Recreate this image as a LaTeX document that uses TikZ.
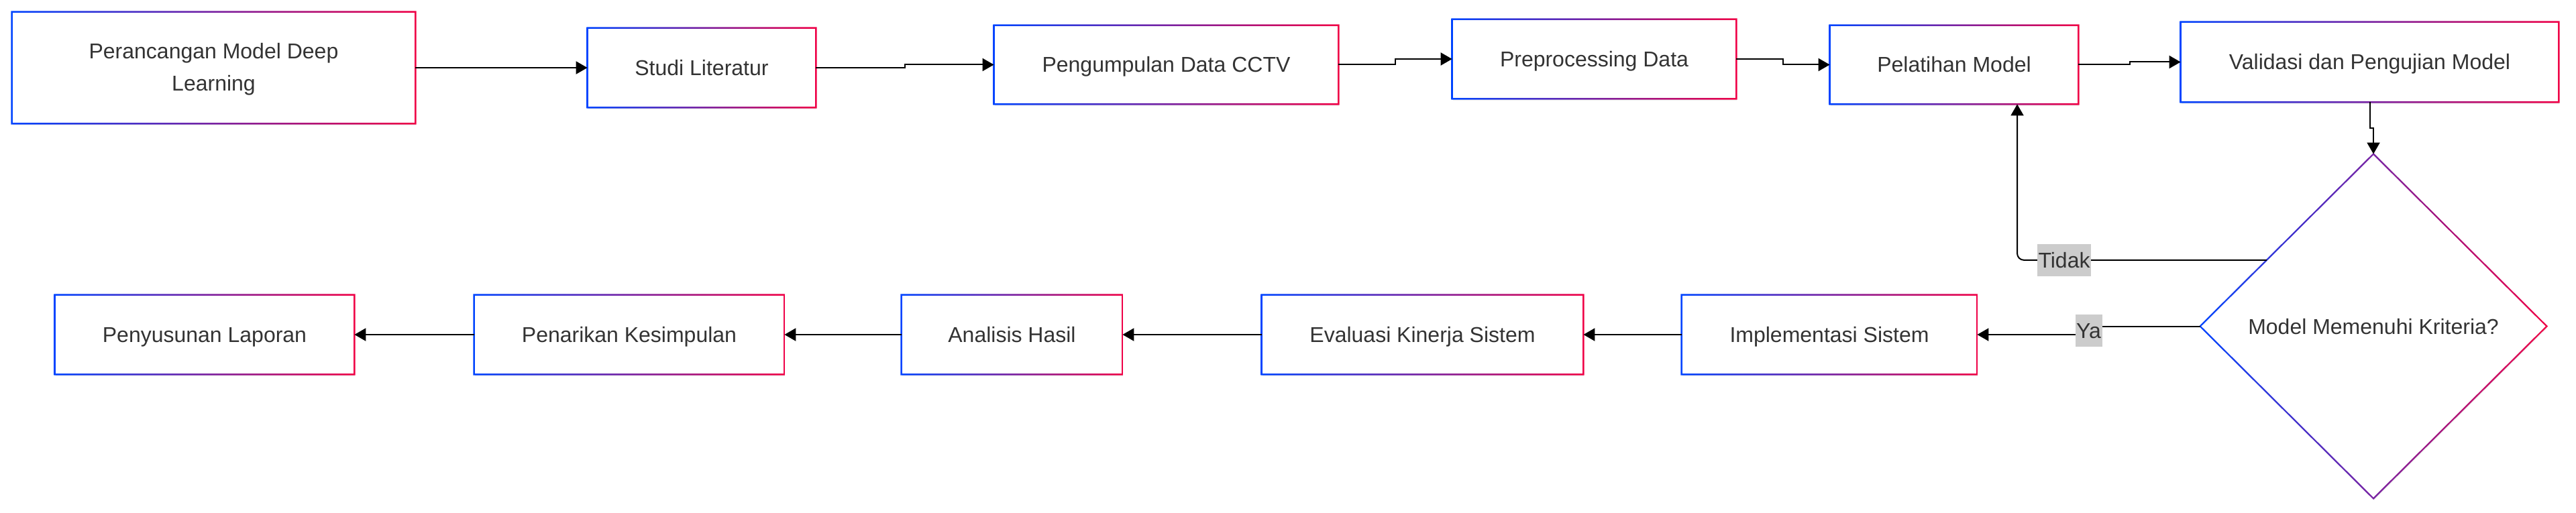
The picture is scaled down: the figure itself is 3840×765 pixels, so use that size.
\documentclass[tikz,border=0pt]{standalone}
\usepackage{fontspec}
\setmainfont{Liberation Sans}
\usetikzlibrary{arrows.meta,calc,shadows,shapes.geometric}
\definecolor{cB}{RGB}{0,68,255}
\definecolor{cR}{RGB}{240,0,70}
\definecolor{txt}{RGB}{51,51,51}
\definecolor{lbl}{RGB}{204,204,204}
\newcommand\gring[1]{%
  \shade[left color=cB,right color=cR,even odd rule]
    ($(#1.north west)+(-1.2,-1.2)$) rectangle ($(#1.south east)+(1.2,1.2)$)
    ($(#1.north west)+(1.2,1.2)$) rectangle ($(#1.south east)+(-1.2,-1.2)$);}
\begin{document}
\begin{tikzpicture}[x=0.5pt,y=-0.5pt,
  fnt/.style={font=\fontsize{16}{24.5}\selectfont},
  box/.style={rectangle, inner sep=0pt, fill=white, text=txt, fnt, align=center,
    text height=11.5pt, text depth=0pt,
    drop shadow={opacity=0.12,shadow xshift=0.6pt,shadow yshift=-1.4pt}},
  dia/.style={diamond, inner sep=0pt, fill=white, text=txt, fnt, align=center,
    text height=11.5pt, text depth=0pt,
    drop shadow={opacity=0.12,shadow xshift=0.6pt,shadow yshift=-1.4pt}},
  arr/.style={line width=1pt, draw=black, -{Triangle[length=8.5pt,width=9.5pt]}},
  lab/.style={fill=lbl, text=txt, fnt, inner xsep=0.8pt, inner ysep=0pt,
    text height=11.5pt, text depth=0pt, minimum height=24pt}]
\useasboundingbox (0,0) rectangle (3840,765);
\fill[white] (0,0) rectangle (3840,765);

% row 1
\node[box, text height=35pt, minimum width=300.5pt, minimum height=83pt] (b1) at (318.5,101) {Perancangan Model Deep\\Learning};
\node[box, minimum width=170pt, minimum height=59pt] (b2) at (1046,101) {Studi Literatur};
\node[box, minimum width=256.5pt, minimum height=58.5pt] (b3) at (1738.5,96.5) {Pengumpulan Data CCTV};
\node[box, minimum width=211.5pt, minimum height=59pt] (b4) at (2376.5,88) {Preprocessing Data};
\node[box, minimum width=185pt, minimum height=58.5pt] (b5) at (2913,96.5) {Pelatihan Model};
\node[box, minimum width=281.5pt, minimum height=59.5pt] (b6) at (3532.5,92.5) {Validasi dan Pengujian Model};
% decision
\node[dia, minimum width=258pt, minimum height=256.5pt] (d) at (3538,486.5) {Model Memenuhi Kriteria?};
% row 2
\node[box, minimum width=220pt, minimum height=59pt] (b8) at (2727,499) {Implementasi Sistem};
\node[box, minimum width=239.5pt, minimum height=59pt] (b9) at (2120.5,499) {Evaluasi Kinerja Sistem};
\node[box, minimum width=164.5pt, minimum height=59pt] (b10) at (1508.5,499) {Analisis Hasil};
\node[box, minimum width=231pt, minimum height=59pt] (b11) at (938,499) {Penarikan Kesimpulan};
\node[box, minimum width=223pt, minimum height=59pt] (b12) at (305,499) {Penyusunan Laporan};

% gradient borders
\foreach \n in {b1,b2,b3,b4,b5,b6,b8,b9,b10,b11,b12} {\gring{\n}}
\shade[left color=cB,right color=cR,even odd rule]
  ($(d.north)+(0,-1.6)$) -- ($(d.east)+(1.6,0)$) -- ($(d.south)+(0,1.6)$) -- ($(d.west)+(-1.6,0)$) -- cycle
  ($(d.north)+(0,1.6)$) -- ($(d.east)+(-1.6,0)$) -- ($(d.south)+(0,-1.6)$) -- ($(d.west)+(1.6,0)$) -- cycle;

% connectors row 1
\draw[arr] (b1.east) -- (b2.west);
\draw[arr] (b2.east) -| ($(b2.east)!0.5!(b3.west)$) |- (b3.west);
\draw[arr] (b3.east) -| ($(b3.east)!0.5!(b4.west)$) |- (b4.west);
\draw[arr] (b4.east) -| ($(b4.east)!0.5!(b5.west)$) |- (b5.west);
\draw[arr] (b5.east) -| ($(b5.east)!0.5!(b6.west)$) |- (b6.west);
\draw[arr] (b6.south) |- ($(b6.south)!0.5!(d.north)$) -| (d.north);

% decision branches
\coordinate (tS) at ($(d.west)!0.384!(d.north)$);
\coordinate (tE) at ($(b5.south)+(94,0)$);
\draw[arr, rounded corners=5pt] (tS) -| (tE);
\node[lab] (tl) at (3077,388) {Tidak};
\coordinate (ym) at ($(d.west)!0.5!(b8.east)$);
\draw[arr] (d.west) -| (ym) |- (b8.east);
\node[lab] (yl) at (ym) {Ya};

% row 2
\draw[arr] (b8.west) -- (b9.east);
\draw[arr] (b9.west) -- (b10.east);
\draw[arr] (b10.west) -- (b11.east);
\draw[arr] (b11.west) -- (b12.east);
\end{tikzpicture}
\end{document}
